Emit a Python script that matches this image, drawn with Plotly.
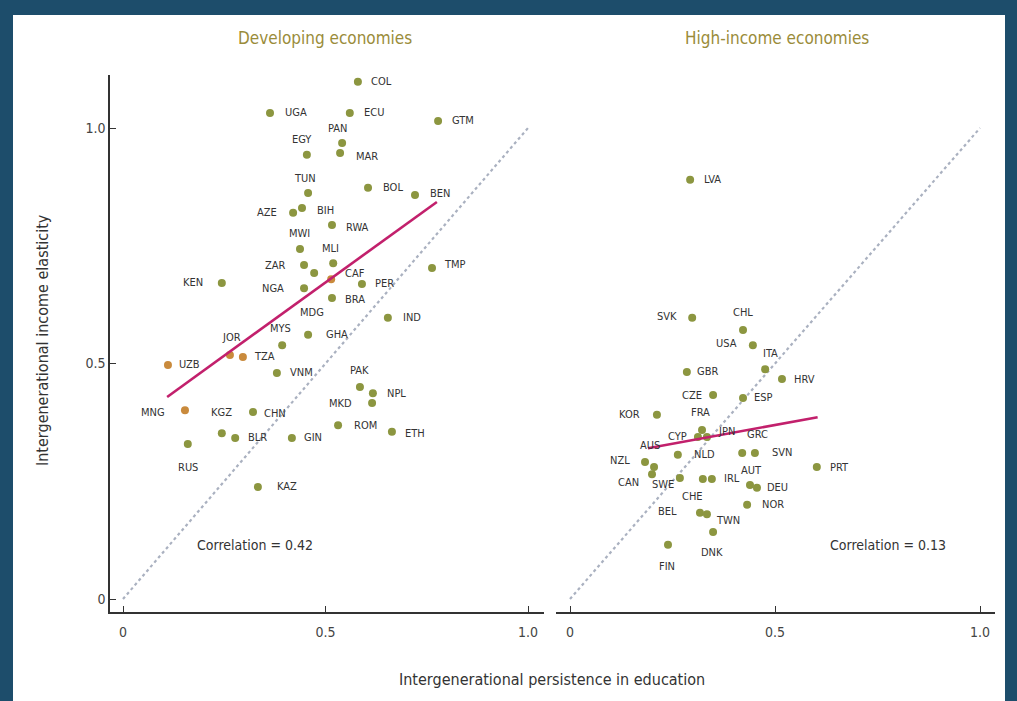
import plotly.graph_objects as go

# ---------------- data ----------------
dev_codes = ["COL","UGA","ECU","GTM","PAN","MAR","EGY","TUN","BOL","BEN","AZE","BIH","RWA","MWI","MLI",
             "ZAR","MDG","CAF","NGA","PER","BRA","TMP","IND","GHA","MYS","JOR","TZA","UZB","VNM","KEN",
             "PAK","NPL","MKD","ROM","ETH","MNG","KGZ","CHN","BLR","GIN","RUS","KAZ"]
dev_edu = [0.580,0.363,0.560,0.778,0.541,0.536,0.454,0.457,0.605,0.721,0.420,0.442,0.516,0.437,0.519,
           0.447,0.472,0.514,0.447,0.590,0.516,0.763,0.654,0.457,0.393,0.264,0.296,0.111,0.380,0.244,
           0.585,0.617,0.615,0.531,0.664,0.153,0.244,0.321,0.277,0.417,0.160,0.333]
dev_inc = [1.098,1.032,1.032,1.015,0.968,0.947,0.943,0.862,0.873,0.858,0.820,0.830,0.794,0.743,0.713,
           0.709,0.692,0.679,0.660,0.669,0.639,0.703,0.597,0.561,0.539,0.518,0.514,0.497,0.480,0.671,
           0.450,0.437,0.416,0.369,0.355,0.401,0.352,0.397,0.342,0.342,0.329,0.238]

hi_codes = ["LVA","SVK","CHL","USA","ITA","HRV","GBR","CZE","ESP","KOR","FRA","CYP","JPN","NLD","GRC",
            "SVN","NZL","AUS","CAN","PRT","SWE","CHE","IRL","AUT","DEU","NOR","BEL","TWN","DNK","FIN"]
hi_edu = [0.293,0.298,0.422,0.446,0.476,0.517,0.285,0.349,0.422,0.212,0.322,0.312,0.334,0.263,0.420,
          0.451,0.183,0.205,0.200,0.602,0.268,0.324,0.346,0.439,0.456,0.432,0.317,0.334,0.349,0.239]
hi_inc = [0.890,0.597,0.571,0.539,0.488,0.467,0.482,0.433,0.427,0.391,0.359,0.344,0.344,0.306,0.310,
          0.310,0.291,0.280,0.265,0.280,0.257,0.255,0.255,0.242,0.236,0.200,0.183,0.180,0.142,0.115]

# fitted trend lines (end points)
dev_fit_x = [0.109, 0.775]
dev_fit_y = [0.429, 0.843]
hi_fit_x = [0.190, 0.604]
hi_fit_y = [0.320, 0.386]
diag = [0.0, 1.0]

dev_corr = "Correlation = 0.42"
hi_corr = "Correlation = 0.13"
tick_vals = [0, 0.5, 1.0]
tick_text = ["0", "0.5", "1.0"]

# ---------------- styles ----------------
OLIVE = "#8c9640"
ORANGE = "#c98a3c"
FIT = "#c2206c"
DOT_LINE = "#aab1c0"
TXT = "#333333"
BG = "#1d4d6b"
FONT = "'DejaVu Sans Condensed', 'Liberation Sans Narrow', 'Roboto Condensed', Roboto, sans-serif"
orange_set = {"UZB", "JOR", "TZA", "MNG", "CAF"}

# label offsets in pixels (dx, dy); dy positive = up
dev_off = {
    "COL": (24, 0), "UGA": (26, 0), "ECU": (24, 0), "GTM": (25, 0), "PAN": (-5, 15), "MAR": (27, -4),
    "EGY": (-5, 15), "TUN": (-3, 15), "BOL": (25, 0), "BEN": (25, 1), "AZE": (-26, 0), "BIH": (23, -2),
    "RWA": (26, -2), "MWI": (0, 16), "MLI": (-3, 15), "ZAR": (-29, 0), "MDG": (-2, -39), "CAF": (24, 6),
    "NGA": (-31, 0), "PER": (23, 0), "BRA": (23, -1), "TMP": (23, 3), "IND": (24, 0), "GHA": (29, 0),
    "MYS": (-2, 17), "JOR": (2, 18), "TZA": (22, 0), "UZB": (22, 0), "VNM": (25, 0), "KEN": (-29, 0),
    "PAK": (0, 17), "NPL": (24, 0), "MKD": (-32, 0), "ROM": (27, 0), "ETH": (23, -2), "MNG": (-32, -2),
    "KGZ": (0, 21), "CHN": (22, -1), "BLR": (22, 0), "GIN": (21, 0), "RUS": (0, -23), "KAZ": (29, 0),
}
hi_off = {
    "LVA": (22, 0), "SVK": (-25, 1), "CHL": (0, 18), "USA": (-26, 2), "ITA": (5, 16), "HRV": (23, 0),
    "GBR": (21, 0), "CZE": (-21, 0), "ESP": (20, 0), "KOR": (-27, 0), "FRA": (-2, 17), "CYP": (-20, 0),
    "JPN": (20, 5), "NLD": (27, 0), "GRC": (15, 18), "SVN": (27, 0), "NZL": (-25, 1), "AUS": (-4, 22),
    "CAN": (-24, -8), "PRT": (23, 0), "SWE": (-17, -7), "CHE": (-10, -18), "IRL": (20, 0), "AUT": (2, 15),
    "DEU": (21, 0), "NOR": (26, 0), "BEL": (-32, 1), "TWN": (21, -6), "DNK": (-1, -20), "FIN": (-1, -22),
}

W, H = 1017, 701

def px_x(p):
    return p / W

def px_y(p):
    return 1 - p / H

fig = go.Figure()

# 45-degree reference lines
for xa, ya in (("x", "y"), ("x2", "y2")):
    fig.add_trace(go.Scatter(x=diag, y=diag, mode="lines", xaxis=xa, yaxis=ya,
                             line=dict(color=DOT_LINE, width=2.2, dash="dot"),
                             hoverinfo="skip", showlegend=False))

# points
fig.add_trace(go.Scatter(x=dev_edu, y=dev_inc, mode="markers", xaxis="x", yaxis="y",
                         marker=dict(size=8, color=[ORANGE if c in orange_set else OLIVE for c in dev_codes]),
                         text=dev_codes, showlegend=False))
fig.add_trace(go.Scatter(x=hi_edu, y=hi_inc, mode="markers", xaxis="x2", yaxis="y2",
                         marker=dict(size=8, color=OLIVE), text=hi_codes, showlegend=False))

# fit lines
fig.add_trace(go.Scatter(x=dev_fit_x, y=dev_fit_y, mode="lines", xaxis="x", yaxis="y",
                         line=dict(color=FIT, width=2.6), showlegend=False, hoverinfo="skip"))
fig.add_trace(go.Scatter(x=hi_fit_x, y=hi_fit_y, mode="lines", xaxis="x2", yaxis="y2",
                         line=dict(color=FIT, width=2.6), showlegend=False, hoverinfo="skip"))

annotations = []
for codes, xs, ys, offs, xr, yr in ((dev_codes, dev_edu, dev_inc, dev_off, "x", "y"),
                                     (hi_codes, hi_edu, hi_inc, hi_off, "x2", "y2")):
    for c, xv, yv in zip(codes, xs, ys):
        dx, dy = offs.get(c, (22, 0))
        annotations.append(dict(x=xv, y=yv, xref=xr, yref=yr, text=c, showarrow=False,
                                xshift=dx, yshift=dy, xanchor="center", yanchor="middle",
                                font=dict(family=FONT, size=11, color=TXT)))

def ptext(x, y, text, size, color, angle=0):
    return dict(x=px_x(x), y=px_y(y), xref="paper", yref="paper", text=text, showarrow=False,
                xanchor="center", yanchor="middle", textangle=angle,
                font=dict(family=FONT, size=size, color=color))

annotations += [
    dict(x=0.326, y=0.115, xref="x", yref="y", text=dev_corr, showarrow=False,
         xanchor="center", yanchor="middle", font=dict(family=FONT, size=14, color=TXT)),
    dict(x=0.776, y=0.115, xref="x2", yref="y2", text=hi_corr, showarrow=False,
         xanchor="center", yanchor="middle", font=dict(family=FONT, size=14, color=TXT)),
    ptext(325, 38, "Developing economies", 17, "#9a8c3a"),
    ptext(777, 38, "High-income economies", 17, "#9a8c3a"),
    ptext(42, 340, "Intergenerational income elasticity", 16, TXT, -90),
    ptext(552, 679, "Intergenerational persistence in education", 16, TXT),
]

axis_common = dict(tickvals=tick_vals, ticktext=tick_text, ticks="inside", ticklen=6, tickwidth=1.2,
                   tickcolor=TXT, showgrid=False, zeroline=False, showline=True, linecolor=TXT,
                   linewidth=1.5, tickfont=dict(family=FONT, size=14, color="#444444"), automargin=False)

y_lo, y_hi = (599 - 612) / 471, (599 - 75) / 471
y_dom = [px_y(612), px_y(75)]

fig.update_layout(
    width=W, height=H,
    margin=dict(l=0, r=0, t=0, b=0),
    paper_bgcolor=BG,
    plot_bgcolor="rgba(0,0,0,0)",
    showlegend=False,
    xaxis=dict(domain=[px_x(110), px_x(544)], range=[-13 / 405, 421 / 405], anchor="y",
               ticklabelstandoff=6, **axis_common),
    xaxis2=dict(domain=[px_x(556), px_x(995)], range=[-14 / 410, 425 / 410], anchor="y2",
                ticklabelstandoff=6, **axis_common),
    yaxis=dict(domain=y_dom, range=[y_lo, y_hi], anchor="x", **axis_common),
    yaxis2=dict(domain=y_dom, range=[y_lo, y_hi], anchor="x2", tickvals=tick_vals, showticklabels=False,
                showgrid=False, zeroline=False, showline=False, ticks=""),
    shapes=[dict(type="rect", xref="paper", yref="paper", x0=px_x(13), x1=px_x(1005), y0=0, y1=px_y(15),
                 fillcolor="white", line=dict(width=0), layer="below")],
    annotations=annotations,
)

fig.write_html(
    "out.html",
    config={"displayModeBar": False},
    post_script="document.body.style.margin='0';document.body.style.overflow='hidden';"
                "document.body.style.background='" + BG + "';",
)
